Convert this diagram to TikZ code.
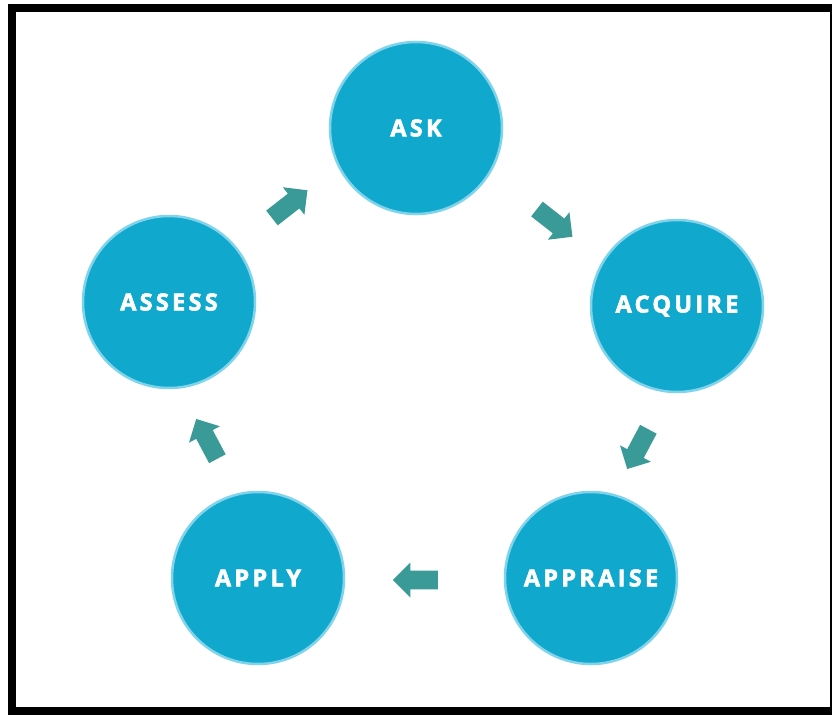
\documentclass[tikz,border=0pt]{standalone}
\usepackage{fontspec}
\newfontfamily\lblfont{Open Sans}[LetterSpace=14, BoldFeatures={FakeBold=2.5}]
\usetikzlibrary{shapes.arrows}
\definecolor{cfill}{HTML}{10A8CD}
\definecolor{cring}{HTML}{7FD3EA}
\definecolor{arrowc}{HTML}{3A9A97}
\tikzset{
  stage/.style={circle, fill=cfill, draw=cring, line width=2.5pt, minimum size=172pt, inner sep=0pt,
    text=white, font=\lblfont\bfseries\fontsize{23.5}{26}\selectfont},
  blockarrow/.style={single arrow, fill=arrowc, draw=none, inner sep=9pt, minimum height=45pt,
    minimum width=35pt, single arrow head extend=8pt, single arrow tip angle=90}
}
\begin{document}
\begin{tikzpicture}[x=1pt,y=-1pt]
\useasboundingbox (0,0) rectangle (833,715);
\fill[black] (8,4) rectangle (832,715);
\fill[white] (16,12) rectangle (830,707);
\node[stage] (ask) at (416,128) {ASK};
\node[stage] (acq) at (677,306) {ACQUIRE};
\node[stage] (app) at (591,578) {APPRAISE};
\node[stage] (apl) at (258,578) {APPLY};
\node[stage] (ass) at (169,302) {ASSESS};
\node[blockarrow, rotate=38] (a1) at (286,207) {};
\node[blockarrow, rotate=-38] (a2) at (551,220) {};
\node[blockarrow, rotate=-118] (a3) at (640,445) {};
\node[blockarrow, rotate=180] (a4) at (420,580) {};
\node[blockarrow, rotate=118] (a5) at (209,443) {};
\end{tikzpicture}
\end{document}
